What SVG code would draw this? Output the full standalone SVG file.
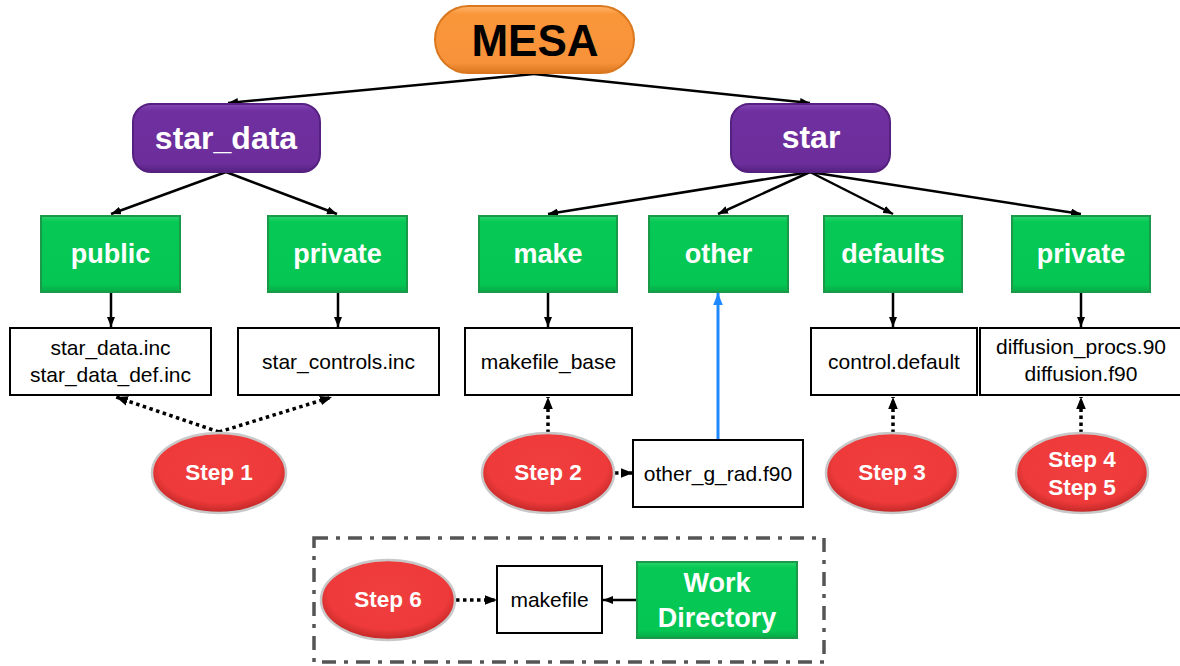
<svg xmlns="http://www.w3.org/2000/svg" width="1180" height="666" viewBox="0 0 1180 666">
<style>
.lbl{font-family:"Liberation Sans",Arial,sans-serif;font-weight:bold;text-anchor:middle}
.w{fill:#ffffff}
.file{font-family:"Liberation Sans",Arial,sans-serif;font-size:21px;fill:#000;text-anchor:middle}
.fbox{fill:#ffffff;stroke:#000;stroke-width:2}
.gbox{fill:url(#gGreen);stroke:#1a9a48;stroke-width:2}
.pbox{fill:url(#gPurple);stroke:#55207f;stroke-width:2}
.step{fill:url(#gRed);stroke:#c8c8c8;stroke-width:2.5}
.conn{stroke:#000;stroke-width:2.5;fill:none}
.dot{stroke:#000;stroke-width:3.5;fill:none;stroke-dasharray:3.5 3.5}
</style>
<defs>
<linearGradient id="gGreen" x1="0" y1="0" x2="0" y2="1">
<stop offset="0" stop-color="#2ad56c"/><stop offset="0.08" stop-color="#06c955"/><stop offset="0.9" stop-color="#05c653"/><stop offset="1" stop-color="#07a847"/>
</linearGradient>
<linearGradient id="gPurple" x1="0" y1="0" x2="0" y2="1">
<stop offset="0" stop-color="#8648b5"/><stop offset="0.1" stop-color="#7030a0"/><stop offset="0.88" stop-color="#6c2e9b"/><stop offset="1" stop-color="#552080"/>
</linearGradient>
<linearGradient id="gOrange" x1="0" y1="0" x2="0" y2="1">
<stop offset="0" stop-color="#ffb56a"/><stop offset="0.12" stop-color="#fa963a"/><stop offset="0.85" stop-color="#f7923a"/><stop offset="1" stop-color="#d9761f"/>
</linearGradient>
<radialGradient id="gRed" cx="0.5" cy="0.42" r="0.6">
<stop offset="0" stop-color="#f03d3d"/><stop offset="0.75" stop-color="#ee3a3a"/><stop offset="1" stop-color="#b82424"/>
</radialGradient>
<marker id="ah" viewBox="0 0 10 8" refX="10" refY="4" markerWidth="10" markerHeight="8" markerUnits="userSpaceOnUse" orient="auto">
<path d="M0,0 L10,4 L0,8 z" fill="#000"/>
</marker>
<marker id="ahd" viewBox="0 0 10 8" refX="10" refY="4" markerWidth="12" markerHeight="10" markerUnits="userSpaceOnUse" orient="auto">
<path d="M0,0 L10,4 L0,8 z" fill="#000"/>
</marker>
<marker id="ahb" viewBox="0 0 10 8" refX="10" refY="4" markerWidth="12" markerHeight="10" markerUnits="userSpaceOnUse" orient="auto">
<path d="M0,0 L10,4 L0,8 z" fill="#1e88ff"/>
</marker>
</defs>
<rect width="1180" height="666" fill="#ffffff"/>

<g id="connectors">
<line class="conn" x1="534" y1="74" x2="228" y2="103" marker-end="url(#ah)"/>
<line class="conn" x1="534" y1="74" x2="810" y2="103" marker-end="url(#ah)"/>
<line class="conn" x1="226" y1="172" x2="111" y2="214" marker-end="url(#ah)"/>
<line class="conn" x1="226" y1="172" x2="337" y2="214" marker-end="url(#ah)"/>
<line class="conn" x1="810" y1="172" x2="548" y2="214" marker-end="url(#ah)"/>
<line class="conn" x1="810" y1="172" x2="718" y2="214" marker-end="url(#ah)"/>
<line class="conn" x1="810" y1="172" x2="893" y2="214" marker-end="url(#ah)"/>
<line class="conn" x1="810" y1="172" x2="1081" y2="214" marker-end="url(#ah)"/>
<line class="conn" x1="111" y1="292" x2="111" y2="327" marker-end="url(#ah)"/>
<line class="conn" x1="338" y1="292" x2="338" y2="327" marker-end="url(#ah)"/>
<line class="conn" x1="548" y1="292" x2="548" y2="327" marker-end="url(#ah)"/>
<line class="conn" x1="893" y1="292" x2="893" y2="327" marker-end="url(#ah)"/>
<line class="conn" x1="1081" y1="292" x2="1081" y2="327" marker-end="url(#ah)"/>
<line x1="718" y1="440" x2="718" y2="293" stroke="#1e88ff" stroke-width="3" marker-end="url(#ahb)"/>
<line class="dot" x1="219" y1="432" x2="116" y2="397" marker-end="url(#ahd)"/>
<line class="dot" x1="219" y1="432" x2="332" y2="397" marker-end="url(#ahd)"/>
<line class="dot" x1="548" y1="433" x2="548" y2="397" marker-end="url(#ahd)"/>
<line class="dot" x1="615" y1="473" x2="633" y2="473" marker-end="url(#ahd)"/>
<line class="dot" x1="893" y1="433" x2="893" y2="397" marker-end="url(#ahd)"/>
<line class="dot" x1="1081" y1="433" x2="1081" y2="397" marker-end="url(#ahd)"/>
<line class="dot" x1="456" y1="600" x2="497" y2="600" marker-end="url(#ahd)"/>
<line class="conn" x1="637" y1="600" x2="603" y2="600" marker-end="url(#ah)"/>
</g>

<g id="work-group">
<rect x="314" y="538" width="510" height="124" fill="none" stroke="#555555" stroke-width="3.5" stroke-dasharray="14 8 4 8"/>
</g>

<g id="mesa">
<rect x="435" y="6" width="199" height="67" rx="33.5" fill="url(#gOrange)" stroke="#d9781f" stroke-width="2"/>
<text class="lbl" x="535" y="56" font-size="44" fill="#000">MESA</text>
</g>

<g id="star_data">
<rect class="pbox" x="133" y="104" width="187" height="68" rx="18"/>
<text class="lbl w" x="226" y="149" font-size="32">star_data</text>
</g>
<g id="star">
<rect class="pbox" x="731" y="104" width="159" height="68" rx="18"/>
<text class="lbl w" x="811" y="148" font-size="32">star</text>
</g>

<g id="public">
<rect class="gbox" x="41" y="216" width="139" height="76"/>
<text class="lbl w" x="110.5" y="263" font-size="27">public</text>
</g>
<g id="private_sd">
<rect class="gbox" x="268" y="216" width="139" height="76"/>
<text class="lbl w" x="337.5" y="263" font-size="27">private</text>
</g>
<g id="make">
<rect class="gbox" x="479" y="216" width="138" height="76"/>
<text class="lbl w" x="548" y="263" font-size="27">make</text>
</g>
<g id="other">
<rect class="gbox" x="649" y="216" width="139" height="76"/>
<text class="lbl w" x="718.5" y="263" font-size="27">other</text>
</g>
<g id="defaults">
<rect class="gbox" x="824" y="216" width="138" height="76"/>
<text class="lbl w" x="893" y="263" font-size="27">defaults</text>
</g>
<g id="private_star">
<rect class="gbox" x="1012" y="216" width="138" height="76"/>
<text class="lbl w" x="1081" y="263" font-size="27">private</text>
</g>

<g id="f_star_data">
<rect class="fbox" x="10" y="328" width="201" height="67"/>
<text class="file" x="110.5" y="355">star_data.inc</text>
<text class="file" x="110.5" y="382">star_data_def.inc</text>
</g>
<g id="f_star_controls">
<rect class="fbox" x="238" y="328" width="201" height="67"/>
<text class="file" x="338.5" y="369">star_controls.inc</text>
</g>
<g id="f_makefile_base">
<rect class="fbox" x="465" y="328" width="167" height="67"/>
<text class="file" x="548.5" y="369">makefile_base</text>
</g>
<g id="f_control_default">
<rect class="fbox" x="811" y="328" width="166" height="67"/>
<text class="file" x="894" y="369">control.default</text>
</g>
<g id="f_diffusion">
<rect class="fbox" x="980" y="328" width="202" height="67"/>
<text class="file" x="1081" y="354">diffusion_procs.90</text>
<text class="file" x="1081" y="381">diffusion.f90</text>
</g>
<g id="f_other_g_rad">
<rect class="fbox" x="633" y="440" width="170" height="67"/>
<text class="file" x="718" y="481">other_g_rad.f90</text>
</g>

<g id="step1">
<ellipse class="step" cx="219" cy="473" rx="67" ry="40"/>
<text class="lbl w" x="219" y="480" font-size="22.5">Step 1</text>
</g>
<g id="step2">
<ellipse class="step" cx="548" cy="473" rx="66" ry="40"/>
<text class="lbl w" x="548" y="480" font-size="22.5">Step 2</text>
</g>
<g id="step3">
<ellipse class="step" cx="892" cy="473" rx="66" ry="40"/>
<text class="lbl w" x="892" y="480" font-size="22.5">Step 3</text>
</g>
<g id="step45">
<ellipse class="step" cx="1082" cy="473" rx="66" ry="40"/>
<text class="lbl w" x="1082" y="467" font-size="22.5">Step 4</text>
<text class="lbl w" x="1082" y="495" font-size="22.5">Step 5</text>
</g>
<g id="step6">
<ellipse class="step" cx="388" cy="600" rx="67" ry="40"/>
<text class="lbl w" x="388" y="607" font-size="22.5">Step 6</text>
</g>

<g id="makefile">
<rect class="fbox" x="497" y="566" width="105" height="67"/>
<text class="file" x="549.5" y="607">makefile</text>
</g>
<g id="work_directory">
<rect class="gbox" x="637" y="562" width="160" height="76"/>
<text class="lbl w" x="717" y="592" font-size="27">Work</text>
<text class="lbl w" x="717" y="627" font-size="27">Directory</text>
</g>
</svg>
